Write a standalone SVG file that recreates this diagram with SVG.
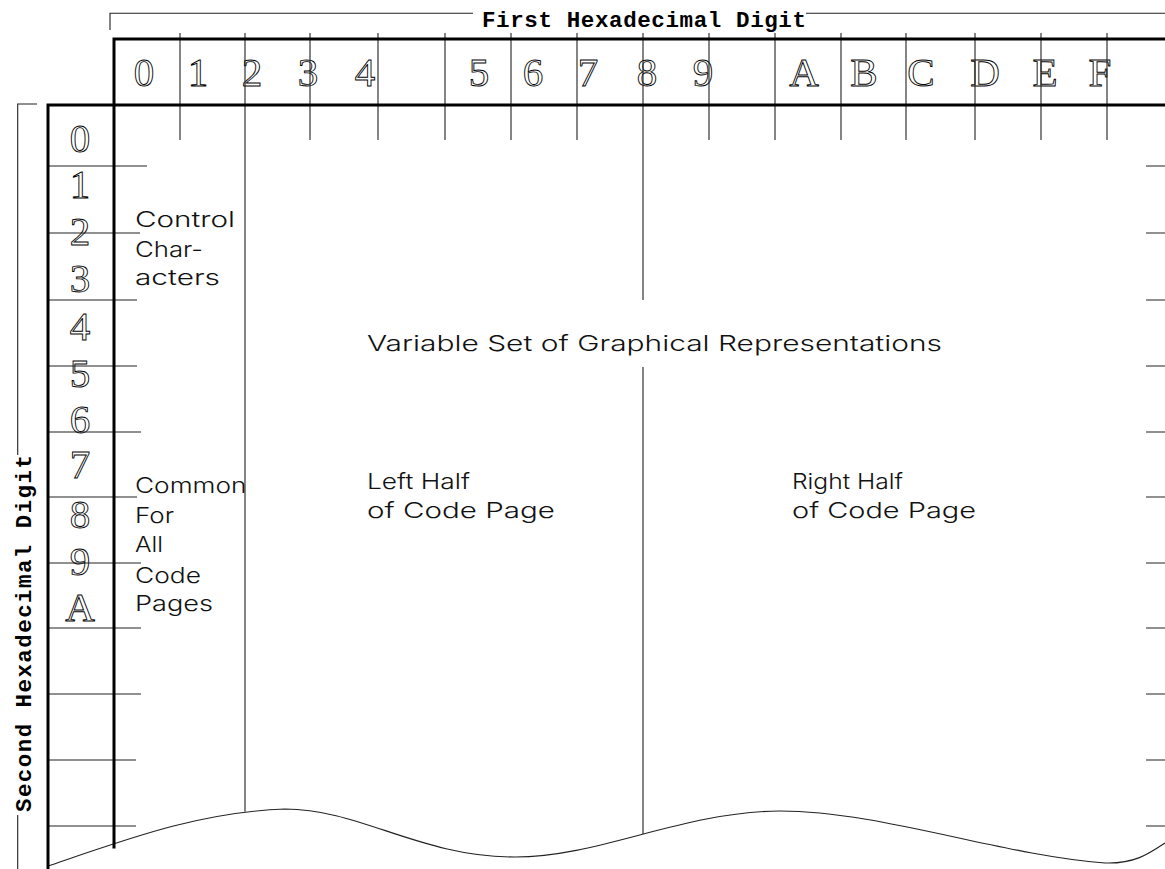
<svg xmlns="http://www.w3.org/2000/svg" width="1165" height="869" viewBox="0 0 1165 869">
<style>
.thick{stroke:#000;stroke-width:3;fill:none;stroke-linecap:square}
.thin{stroke:#222;stroke-width:1.1;fill:none}
.axis{font-family:"Liberation Mono",monospace;font-size:22.5px;font-weight:bold;fill:#000}
.dig{font-family:"Liberation Serif",serif;font-size:41px;fill:#fff;stroke:#000;stroke-width:0.9;text-anchor:middle}
.lbl{font-family:Inter,"Liberation Sans",Arial,sans-serif;font-size:22px;font-weight:300;fill:#111}
</style>
<rect width="1165" height="869" fill="#fff"/>

<g id="first-digit-axis">
  <path class="thin" d="M110,30 V13.3 H473 M806,13.3 H1165"/>
  <text class="axis" x="482" y="26.7" textLength="324" lengthAdjust="spacing">First Hexadecimal Digit</text>
</g>

<g id="second-digit-axis">
  <path class="thin" d="M37,104 H17.7 V455 M17.7,815 V869"/>
  <text class="axis" transform="translate(31,633.5) rotate(-90)" text-anchor="middle" textLength="357" lengthAdjust="spacing">Second Hexadecimal Digit</text>
</g>

<g id="column-digits">
  <text class="dig" x="144" y="86">0</text>
  <text class="dig" x="198" y="86">1</text>
  <text class="dig" x="252" y="86">2</text>
  <text class="dig" x="308" y="86">3</text>
  <text class="dig" x="365" y="86">4</text>
  <text class="dig" x="479" y="86">5</text>
  <text class="dig" x="533" y="86">6</text>
  <text class="dig" x="588" y="86">7</text>
  <text class="dig" x="647" y="86">8</text>
  <text class="dig" x="703" y="86">9</text>
  <text class="dig" x="804" y="86">A</text>
  <text class="dig" x="864" y="86">B</text>
  <text class="dig" x="921" y="86">C</text>
  <text class="dig" x="985" y="86">D</text>
  <text class="dig" x="1045" y="86">E</text>
  <text class="dig" x="1100" y="86">F</text>
</g>

<g id="row-digits">
  <text class="dig" x="80" y="152">0</text>
  <text class="dig" x="80" y="198">1</text>
  <text class="dig" x="80" y="245">2</text>
  <text class="dig" x="80" y="292">3</text>
  <text class="dig" x="80" y="340">4</text>
  <text class="dig" x="80" y="387">5</text>
  <text class="dig" x="80" y="433">6</text>
  <text class="dig" x="80" y="478">7</text>
  <text class="dig" x="80" y="528">8</text>
  <text class="dig" x="80" y="575">9</text>
  <text class="dig" x="80" y="621">A</text>
</g>

<g id="control-characters">
  <text class="lbl" x="135" y="227" textLength="100" lengthAdjust="spacingAndGlyphs">Control</text>
  <text class="lbl" x="135" y="257" textLength="68" lengthAdjust="spacingAndGlyphs">Char-</text>
  <text class="lbl" x="135" y="285" textLength="85" lengthAdjust="spacingAndGlyphs">acters</text>
</g>

<g id="common-for-all">
  <text class="lbl" x="135" y="493" textLength="111.5" lengthAdjust="spacingAndGlyphs">Common</text>
  <text class="lbl" x="135" y="523" textLength="39" lengthAdjust="spacingAndGlyphs">For</text>
  <text class="lbl" x="135" y="552" textLength="28" lengthAdjust="spacingAndGlyphs">All</text>
  <text class="lbl" x="135" y="583" textLength="66" lengthAdjust="spacingAndGlyphs">Code</text>
  <text class="lbl" x="135" y="611" textLength="78" lengthAdjust="spacingAndGlyphs">Pages</text>
</g>

<g id="variable-set">
  <text class="lbl" x="367" y="351" textLength="575" lengthAdjust="spacingAndGlyphs">Variable Set of Graphical Representations</text>
</g>

<g id="left-half">
  <text class="lbl" x="367" y="489" textLength="103" lengthAdjust="spacingAndGlyphs">Left Half</text>
  <text class="lbl" x="367" y="518" textLength="188" lengthAdjust="spacingAndGlyphs">of Code Page</text>
</g>

<g id="right-half">
  <text class="lbl" x="792" y="489" textLength="111" lengthAdjust="spacingAndGlyphs">Right Half</text>
  <text class="lbl" x="792" y="518" textLength="184" lengthAdjust="spacingAndGlyphs">of Code Page</text>
</g>

<g id="connectors">
  <path class="thin" d="M180,33 V140 M310,33 V140 M378,33 V140 M445,33 V140 M511,33 V140 M577,33 V140 M709,33 V140 M775,33 V140 M841,33 V140 M906,33 V140 M975,33 V140 M1041,33 V140 M1107,33 V140"/>
  <path class="thin" d="M245,33 V811.7 M643,33 V300 M643,367 V834"/>
  <path class="thin" d="M48,166 H147 M48,233 H140 M48,300 H137 M48,366 H137 M48,432 H141 M48,497 H137 M48,563 H141 M48,628 H141 M48,694 H141 M48,760 H136 M48,826 H136"/>
  <path class="thin" d="M1146,166 H1165 M1146,233 H1165 M1146,300 H1165 M1146,366 H1165 M1146,432 H1165 M1146,497 H1165 M1146,563 H1165 M1146,628 H1165 M1146,694 H1165 M1146,760 H1165 M1146,826 H1165"/>
  <path class="thin" d="M48,866 C130,838 200,812 285,809 C360,809 420,857 515,857 C600,857 680,812 780,811 C880,811 1000,855 1105,863 C1135,864 1150,853 1165,843"/>
  <path class="thick" d="M114,39 H1166 M48,105 H1166 M114,39 V847 M48,105 V870"/>
</g>
</svg>
